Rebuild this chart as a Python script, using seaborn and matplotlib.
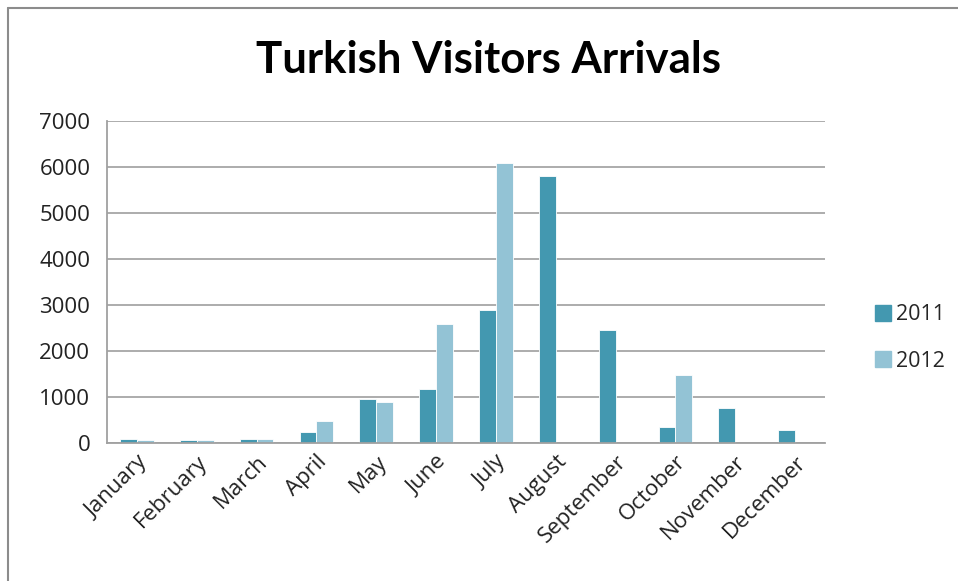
import numpy as np
import pandas as pd
import matplotlib
matplotlib.use("Agg")
import matplotlib.pyplot as plt
import seaborn as sns
from matplotlib.lines import Line2D

months = ["January", "February", "March", "April", "May", "June", "July",
          "August", "September", "October", "November", "December"]
visitors_2011 = [87, 60, 87, 245, 950, 1170, 2893, 5815, 2446, 340, 758, 288]
visitors_2012 = [60, 60, 87, 480, 900, 2590, 6082, np.nan, np.nan, 1478, np.nan, np.nan]
years = ["2011", "2012"]
yticks = [0, 1000, 2000, 3000, 4000, 5000, 6000, 7000]

df = pd.DataFrame({
    "Month": months * 2,
    "Visitors": visitors_2011 + visitors_2012,
    "Year": [years[0]] * 12 + [years[1]] * 12,
})

sns.set_theme(style="white")
plt.rcParams["font.family"] = ["Open Sans", "DejaVu Sans"]

fig = plt.figure(figsize=(9.58, 5.81), dpi=100)
ax = fig.add_axes([107 / 958, 1 - 443 / 581, (825 - 107) / 958, (443 - 121) / 581])

palette = {"2011": "#4398B0", "2012": "#93C3D5"}
sns.barplot(data=df, x="Month", y="Visitors", hue="Year", order=months,
            hue_order=years, palette=palette, width=0.56, ax=ax,
            saturation=1, edgecolor="white", linewidth=0.6, legend=False)

ax.set_ylim(0, 7000)
ax.set_yticks(yticks)
ax.set_yticklabels([str(v) for v in yticks], fontsize=16, color="#222222")
ax.set_xlim(-0.5, 11.5)
ax.set_xticks(range(12))
ax.set_xticklabels(months, rotation=45, ha="right", rotation_mode="anchor",
                   fontsize=16, color="#222222")
ax.tick_params(axis="y", length=0, pad=12)
ax.tick_params(axis="x", length=0, pad=6)
ax.set_xlabel("")
ax.set_ylabel("")
ax.yaxis.grid(True, color="#A6A6A6", linewidth=1.3)
ax.set_axisbelow(True)
for s in ["top", "right"]:
    ax.spines[s].set_visible(False)
for s in ["left", "bottom"]:
    ax.spines[s].set_color("#A0A0A0")
    ax.spines[s].set_linewidth(1.3)

fig.text(489 / 958, 1 - 60 / 581, "Turkish Visitors Arrivals", ha="center",
         va="center", fontsize=31.5, fontweight="bold", color="black",
         family=["Lato", "DejaVu Sans"])

handles = [Line2D([0], [0], marker="s", linestyle="none", markersize=11.5,
                  markerfacecolor=palette[y], markeredgecolor=palette[y]) for y in years]
fig.legend(handles, years, loc="center left", bbox_to_anchor=(853 / 958, 1 - 338 / 581),
           frameon=False, fontsize=15.5, handletextpad=0.1, labelspacing=1.2,
           handlelength=1.0)

# outer chart border
fig.add_artist(Line2D([8 / 958, 8 / 958], [0, 1 - 8 / 581], transform=fig.transFigure,
                      color="#8C8C8C", linewidth=1.5))
fig.add_artist(Line2D([8 / 958, 1], [1 - 8 / 581, 1 - 8 / 581], transform=fig.transFigure,
                      color="#8C8C8C", linewidth=1.5))

fig.savefig("out.png", dpi=100)
